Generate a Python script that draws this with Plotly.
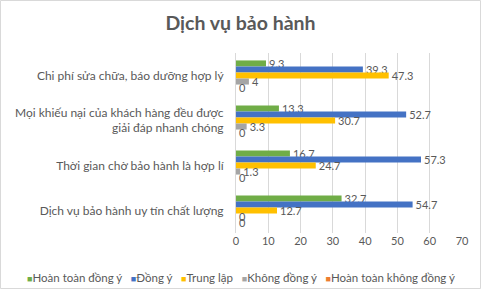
import plotly.graph_objects as go

categories = [
    "Chi phí sửa chữa, báo dưỡng hợp lý",
    "Mọi khiếu nại của khách hàng đều được<br>giải đáp nhanh chóng",
    "Thời gian chờ bảo hành là hợp lí",
    "Dịch vụ bảo hành uy tín chất lượng",
]
series_names = ["Hoàn toàn đồng ý", "Đồng ý", "Trung lập", "Không đồng ý", "Hoàn toàn không đồng ý"]
hoan_toan_dong_y = [9.3, 13.3, 16.7, 32.7]
dong_y = [39.3, 52.7, 57.3, 54.7]
trung_lap = [47.3, 30.7, 24.7, 12.7]
khong_dong_y = [4, 3.3, 1.3, 0]
hoan_toan_khong_dong_y = [0, 0, 0, 0]
colors = ["#70AD47", "#4472C4", "#FFC000", "#A5A5A5", "#ED7D31"]
x_ticks = [0, 10, 20, 30, 40, 50, 60, 70]

series = [hoan_toan_dong_y, dong_y, trung_lap, khong_dong_y, hoan_toan_khong_dong_y]

W, H = 481, 289
L, R, T, B = 236, 19, 53, 56
FONT = "Lato, Open Sans, sans-serif"
GREY = "#595959"

fig = go.Figure()
for name, vals, col in zip(series_names, series, colors):
    fig.add_trace(go.Bar(
        y=categories, x=vals, name=name, orientation="h",
        marker=dict(color=col, line=dict(width=0)),
        text=[("%g" % v) for v in vals], textposition="outside",
        textfont=dict(size=11, color=GREY, family=FONT),
        constraintext="none", cliponaxis=False, showlegend=False,
    ))

pw = W - L - R
ph = H - T - B
legend_html = "   ".join(
    f"<span style='color:{c};font-size:9px'>■</span>{n}" for n, c in zip(series_names, colors)
)

fig.update_layout(
    width=W, height=H,
    margin=dict(l=L, r=R, t=T, b=B),
    paper_bgcolor="white", plot_bgcolor="white",
    barmode="group", bargap=0.33, bargroupgap=0,
    font=dict(family=FONT, color=GREY),
    title=dict(text="<b>Dịch vụ bảo hành</b>", x=0.5, xref="container", xanchor="center",
               y=1 - 23 / H, yref="container", yanchor="middle",
               font=dict(size=19.5, color=GREY, family=FONT)),
    xaxis=dict(range=[0, 70], tickvals=x_ticks, showgrid=True, gridcolor="#D9D9D9",
               gridwidth=1, zeroline=False, showline=False,
               tickfont=dict(size=11, color=GREY, family=FONT), fixedrange=True),
    yaxis=dict(autorange="reversed", showline=True, linecolor="#D9D9D9",
               ticks="outside", ticklen=9, tickcolor="rgba(0,0,0,0)",
               tickfont=dict(size=12, color=GREY, family=FONT), fixedrange=True),
    annotations=[dict(text=legend_html, xref="paper", yref="paper",
                      x=(241 - L) / pw, y=-(277 - (T + ph)) / ph,
                      xanchor="center", yanchor="middle", showarrow=False,
                      font=dict(size=11.5, color=GREY, family=FONT))],
    shapes=[dict(type="rect", xref="paper", yref="paper",
                 x0=(0.5 - L) / pw, x1=(W - 0.5 - L) / pw,
                 y0=-(B - 0.5) / ph, y1=1 + (T - 0.5) / ph,
                 line=dict(color="#D9D9D9", width=1), layer="below")],
)

fig.write_html("out.html")
